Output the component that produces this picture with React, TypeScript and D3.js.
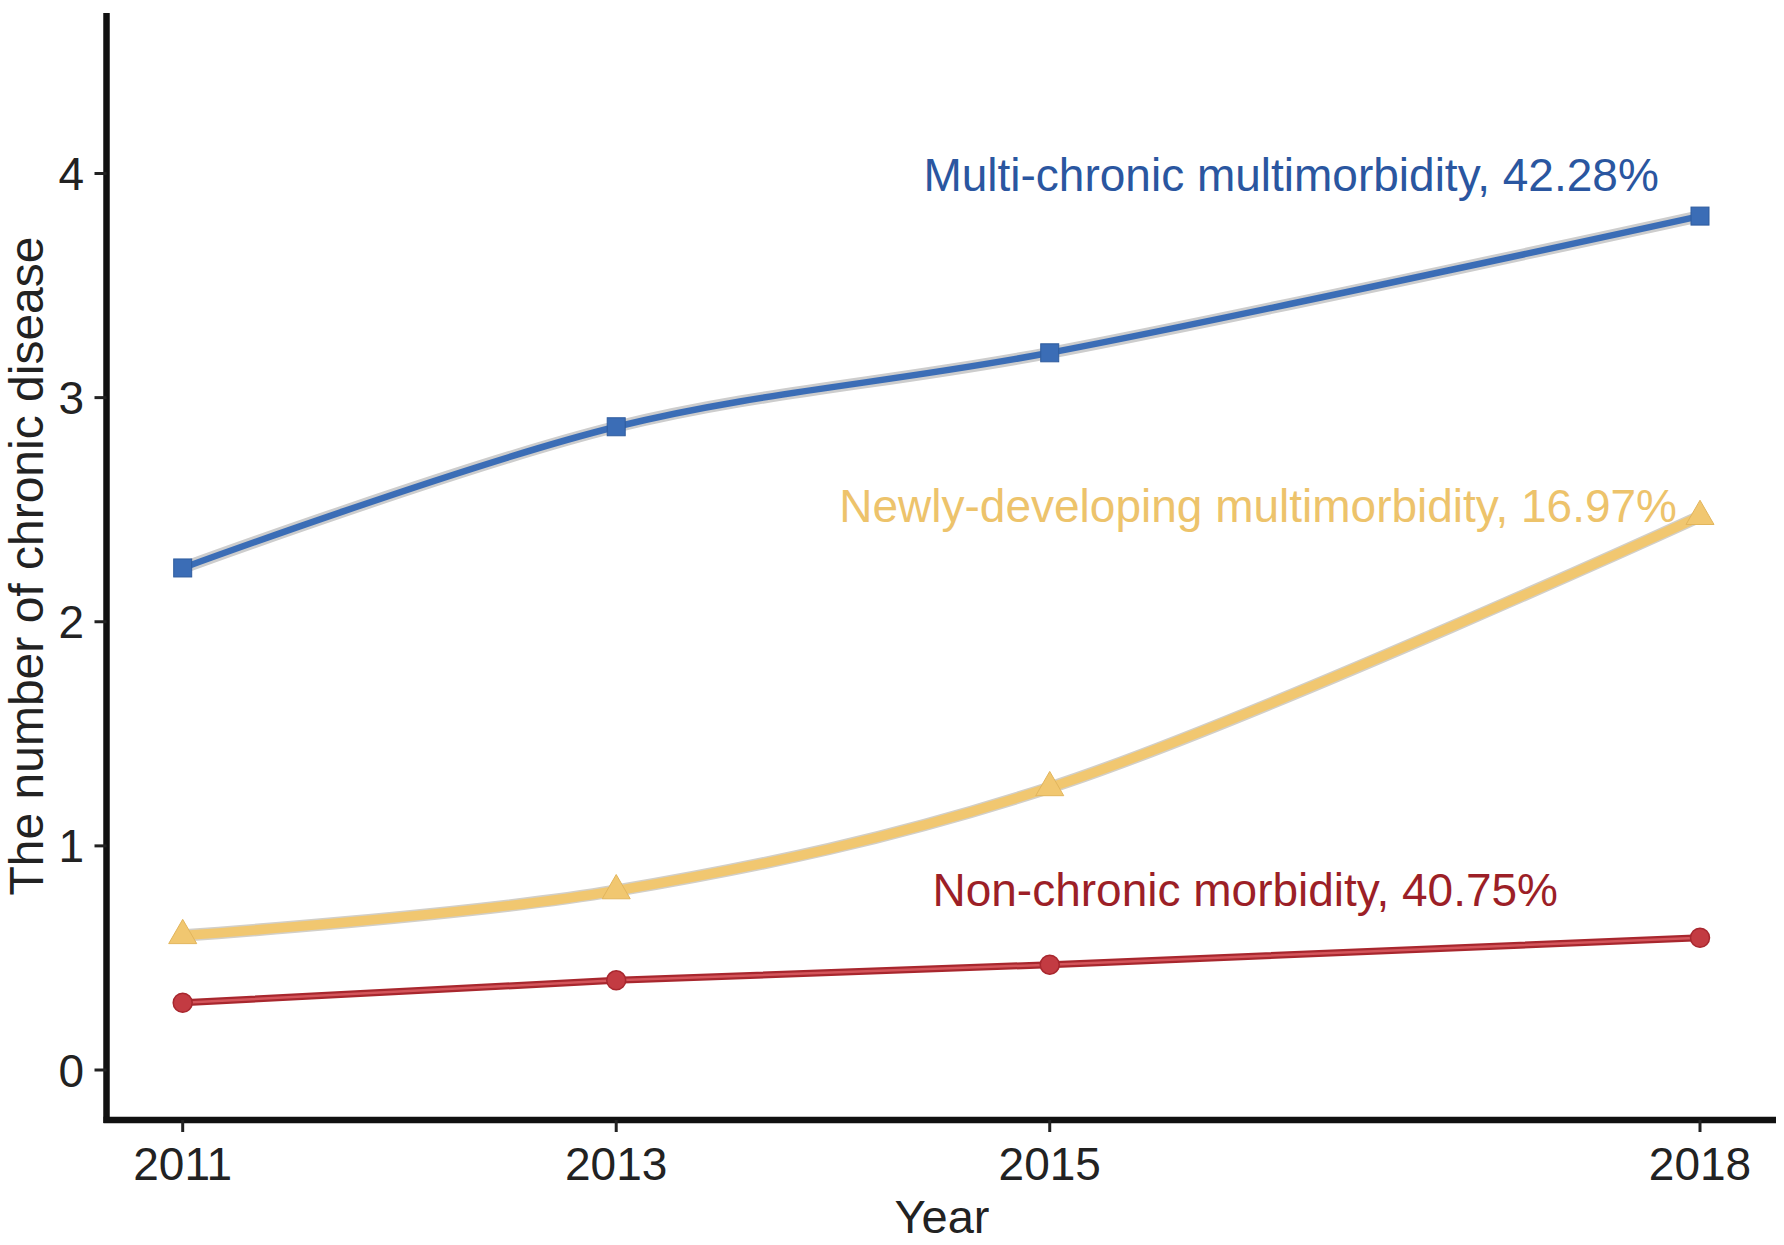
import React from "react";
import * as d3 from "d3";

const years = [2011, 2013, 2015, 2018];
const multiChronic = [2.24, 2.87, 3.2, 3.81];
const newlyDeveloping = [0.6, 0.8, 1.26, 2.47];
const nonChronic = [0.3, 0.4, 0.47, 0.59];
const yTicks = [0, 1, 2, 3, 4];
const xTicks = [2011, 2013, 2015, 2018];
const labelTexts = [
  "Multi-chronic multimorbidity, 42.28%",
  "Newly-developing multimorbidity, 16.97%",
  "Non-chronic morbidity, 40.75%",
];

const W = 1784;
const H = 1245;
const FONT = "'Liberation Sans', Arial, Helvetica, sans-serif";

export default function App() {
  const x = d3.scaleLinear().domain([2011, 2018]).range([182.7, 1700]);
  const y = d3.scaleLinear().domain([0, 4]).range([1070, 173.5]);

  const axisLeft = 106.5;
  const axisBottom = 1120;
  const axisTop = 13;
  const axisRight = 1776;

  const smooth = d3
    .line<number>()
    .x((_, i) => x(years[i]))
    .y((d) => y(d))
    .curve(d3.curveCatmullRom.alpha(0.5));
  const straight = d3
    .line<number>()
    .x((_, i) => x(years[i]))
    .y((d) => y(d));

  const blue = "#3b6db6";
  const yellow = "#f1c770";
  const red = "#c33b42";

  const tri = d3.symbol().type(d3.symbolTriangle).size(340)();

  return (
    <svg
      width={W}
      height={H}
      style={{ position: "absolute", left: 0, top: 0, background: "#fff" }}
      fontFamily={FONT}
    >
      <rect x={0} y={0} width={W} height={H} fill="#fff" />

      {/* Multi-chronic (blue) */}
      <path d={smooth(multiChronic) || ""} fill="none" stroke="#cdcdcd" strokeWidth={12} strokeLinecap="round" />
      <path d={smooth(multiChronic) || ""} fill="none" stroke={blue} strokeWidth={6.5} />
      {multiChronic.map((v, i) => (
        <rect
          key={"b" + i}
          x={x(years[i]) - 9}
          y={y(v) - 9}
          width={18}
          height={18}
          fill={blue}
          stroke="#2f5c9e"
          strokeWidth={1}
        />
      ))}

      {/* Newly-developing (yellow) */}
      <path d={smooth(newlyDeveloping) || ""} fill="none" stroke="#d2cfc8" strokeWidth={12.5} strokeLinecap="round" />
      <path d={smooth(newlyDeveloping) || ""} fill="none" stroke={yellow} strokeWidth={9.5} />
      {newlyDeveloping.map((v, i) => (
        <path
          key={"y" + i}
          d={tri || ""}
          transform={`translate(${x(years[i])},${y(v)})`}
          fill={yellow}
          stroke="#e2b55c"
          strokeWidth={1}
        />
      ))}

      {/* Non-chronic (red) */}
      <path d={straight(nonChronic) || ""} fill="none" stroke="#a8272e" strokeWidth={7} />
      <path d={straight(nonChronic) || ""} fill="none" stroke="#d4555b" strokeWidth={2.5} />
      {nonChronic.map((v, i) => (
        <circle
          key={"r" + i}
          cx={x(years[i])}
          cy={y(v)}
          r={9.5}
          fill={red}
          stroke="#a8272e"
          strokeWidth={1.5}
        />
      ))}

      {/* Annotations */}
      <text x={x(2017.81)} y={y(3.924)} textAnchor="end" fontSize={46} fill="#2a56a0">
        {labelTexts[0]}
      </text>
      <text x={x(2017.894)} y={y(2.444)} textAnchor="end" fontSize={46} fill="#edc36b">
        {labelTexts[1]}
      </text>
      <text x={x(2017.345)} y={y(0.731)} textAnchor="end" fontSize={46} fill="#9c1f27">
        {labelTexts[2]}
      </text>

      {/* Axes */}
      <line x1={axisLeft} y1={axisTop} x2={axisLeft} y2={axisBottom + 3} stroke="#111" strokeWidth={6.5} />
      <line x1={axisLeft - 3} y1={axisBottom} x2={axisRight} y2={axisBottom} stroke="#111" strokeWidth={6.5} />

      {yTicks.map((t) => (
        <g key={"yt" + t}>
          <line x1={axisLeft - 12} x2={axisLeft} y1={y(t)} y2={y(t)} stroke="#222" strokeWidth={3} />
          <text x={84} y={y(t)} dy="0.36em" textAnchor="end" fontSize={46} fill="#222">
            {t}
          </text>
        </g>
      ))}
      {xTicks.map((t) => (
        <g key={"xt" + t}>
          <line x1={x(t)} x2={x(t)} y1={axisBottom} y2={axisBottom + 12} stroke="#222" strokeWidth={3} />
          <text x={x(t)} y={1180} textAnchor="middle" fontSize={46} fill="#222">
            {t}
          </text>
        </g>
      ))}

      <text x={942} y={1233} textAnchor="middle" fontSize={47} fill="#222">
        Year
      </text>
      <text
        transform={`translate(43,566) rotate(-90)`}
        textAnchor="middle"
        fontSize={48}
        fill="#222"
      >
        The number of chronic disease
      </text>
    </svg>
  );
}
